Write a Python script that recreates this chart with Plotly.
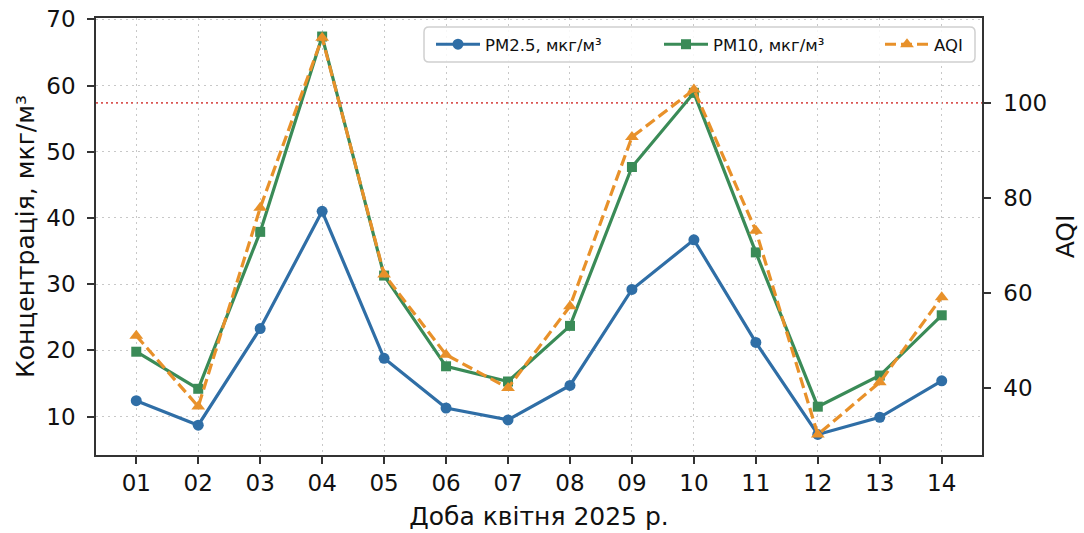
import plotly.graph_objects as go

days = ["01", "02", "03", "04", "05", "06", "07", "08", "09", "10", "11", "12", "13", "14"]
pm25 = [12.4, 8.7, 23.3, 41.0, 18.8, 11.3, 9.5, 14.7, 29.2, 36.7, 21.2, 7.3, 9.9, 15.4]
pm10 = [19.8, 14.2, 37.9, 67.4, 31.3, 17.6, 15.3, 23.7, 47.7, 58.9, 34.8, 11.5, 16.2, 25.3]
aqi = [51.0, 36.1, 77.9, 113.7, 63.9, 47.0, 40.0, 57.2, 92.8, 102.8, 73.1, 30.2, 41.2, 59.1]
AQI_THRESHOLD = 100

C_BLUE = "#2f6ea6"
C_GREEN = "#3a8b57"
C_ORANGE = "#e8912a"
FONT = "DejaVu Sans"

# plot area in pixels (for legend placement)
PL, PR, PT, PB = 96, 982, 18, 455
W, H = 1084, 533
def px_x(p):
    return (p - PL) / (PR - PL)
def px_y(p):
    return (PB - p) / (PB - PT)

fig = go.Figure()
fig.add_trace(go.Scatter(
    x=days, y=pm25, name="PM2.5, мкг/м³", mode="lines+markers", legend="legend",
    line=dict(color=C_BLUE, width=3.2),
    marker=dict(symbol="circle", size=11, color=C_BLUE),
))
fig.add_trace(go.Scatter(
    x=days, y=pm10, name="PM10, мкг/м³", mode="lines+markers", legend="legend2",
    line=dict(color=C_GREEN, width=3.2),
    marker=dict(symbol="square", size=10, color=C_GREEN),
))
fig.add_trace(go.Scatter(
    x=days, y=aqi, name="AQI", mode="lines+markers", yaxis="y2", legend="legend3",
    line=dict(color=C_ORANGE, width=3.2, dash="11px,5px"),
    marker=dict(symbol="triangle-up", size=12, color=C_ORANGE),
))

fig.add_shape(type="line", xref="paper", x0=0, x1=1, yref="y2",
              y0=AQI_THRESHOLD, y1=AQI_THRESHOLD,
              line=dict(color="rgba(214,69,65,0.9)", width=1.8, dash="2px,3px"),
              layer="below")

# rounded legend frame
x0, x1 = px_x(424), px_x(975)
y0, y1 = px_y(62), px_y(27)
rx, ry = 5 / (PR - PL), 5 / (PB - PT)
path = (f"M {x0+rx},{y0} L {x1-rx},{y0} Q {x1},{y0} {x1},{y0+ry} "
        f"L {x1},{y1-ry} Q {x1},{y1} {x1-rx},{y1} L {x0+rx},{y1} "
        f"Q {x0},{y1} {x0},{y1-ry} L {x0},{y0+ry} Q {x0},{y0} {x0+rx},{y0} Z")
fig.add_shape(type="path", xref="paper", yref="paper", path=path,
              line=dict(color="#d0d0d0", width=1.5),
              fillcolor="rgba(255,255,255,0.85)", layer="above")

axis_common = dict(
    showline=True, linecolor="#333333", linewidth=1.5,
    ticks="outside", ticklen=7, tickwidth=1.5, tickcolor="#333333",
    tickfont=dict(family=FONT, size=23, color="#111111"),
    zeroline=False, automargin=False,
)
grid = dict(showgrid=True, gridcolor="#c8c8c8", gridwidth=1, griddash="2px,4px")

leg_common = dict(
    orientation="h", yanchor="middle", xanchor="left",
    bgcolor="rgba(0,0,0,0)", borderwidth=0,
    font=dict(family=FONT, size=16.5, color="#111111"),
    itemwidth=44,
)

fig.update_layout(
    width=W, height=H,
    margin=dict(l=PL, r=W - PR, t=PT, b=H - PB),
    paper_bgcolor="white", plot_bgcolor="white",
    font=dict(family=FONT, color="#111111"),
    xaxis=dict(
        **axis_common, **grid, type="category", range=[-0.65, 13.65], mirror=True,
        title=dict(text="Доба квітня 2025 р.", font=dict(family=FONT, size=25), standoff=12),
    ),
    yaxis=dict(
        **axis_common, **grid, range=[4.2, 70.2], dtick=10, tick0=0,
        ticklabelstandoff=7,
        title=dict(text="Концентрація, мкг/м³", font=dict(family=FONT, size=25), standoff=5),
    ),
    yaxis2=dict(
        **axis_common, range=[25.9, 117.85], dtick=20, tick0=0,
        ticklabelstandoff=8,
        overlaying="y", side="right", showgrid=False,
        title=dict(text="AQI", font=dict(family=FONT, size=25), standoff=10),
    ),
    legend=dict(**leg_common, x=px_x(431), y=px_y(44.5)),
    legend2=dict(**leg_common, x=px_x(659), y=px_y(44.5)),
    legend3=dict(**leg_common, x=px_x(880), y=px_y(44.5)),
    showlegend=True,
)

fig.write_html("out.html")
